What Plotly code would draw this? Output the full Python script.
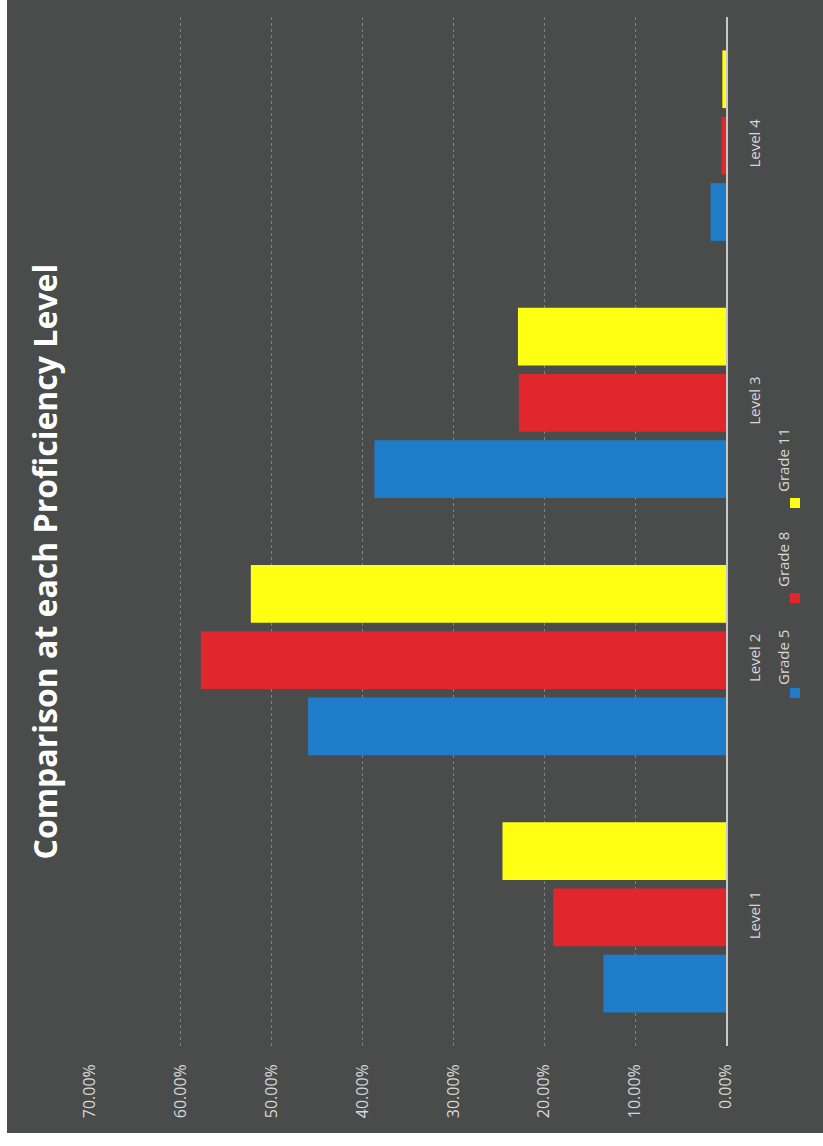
import plotly.graph_objects as go

levels = ["Level 1", "Level 2", "Level 3", "Level 4"]
series_names = ["Grade 5", "Grade 8", "Grade 11"]
grade5 = [0.135, 0.460, 0.387, 0.017]
grade8 = [0.190, 0.578, 0.228, 0.005]
grade11 = [0.246, 0.523, 0.229, 0.004]
value_ticks = [0, 0.1, 0.2, 0.3, 0.4, 0.5, 0.6, 0.7]
colors = ["#1f7cc9", "#e1262d", "#ffff14"]
title_text = "Comparison at each Proficiency Level"

W, H = 823, 1146
L, R, T, B = 90, 97, 17, 100
PW, PH = W - L - R, H - T - B


def px(x):
    return (x - L) / PW


def py(y):
    return (H - B - y) / PH


fig = go.Figure()
for name, vals, col in zip(series_names, [grade5, grade8, grade11], colors):
    fig.add_trace(go.Bar(
        y=levels, x=vals, name=name, orientation="h",
        marker=dict(color=col, line=dict(width=0)),
        showlegend=False,
    ))

txt_col = "#d8d8d8"
fig.update_layout(
    width=W, height=H,
    margin=dict(l=L, r=R, t=T, b=B, autoexpand=False),
    paper_bgcolor="#4a4b4b",
    plot_bgcolor="rgba(0,0,0,0)",
    barmode="group",
    bargap=0.226,
    bargroupgap=0.13,
    font=dict(family="Open Sans", color=txt_col),
    xaxis=dict(
        range=[0.7, 0], tickvals=value_ticks, tickformat=".2%",
        tickangle=-90, showgrid=True, gridcolor="rgba(210,210,210,0.4)",
        griddash="dot", gridwidth=1, zeroline=False, showline=False,
        ticks="", ticklabelstandoff=14, tickfont=dict(size=16, color=txt_col),
        fixedrange=True,
    ),
    yaxis=dict(
        side="right", showline=True, linecolor="#c8c8c8", linewidth=1.5,
        showgrid=False, ticks="", tickangle=-90, ticklabelstandoff=14,
        tickfont=dict(size=15, color=txt_col),
        range=[-0.5, 3.5], fixedrange=True,
    ),
)

# white page border strips (left and bottom)
fig.add_shape(type="rect", xref="paper", yref="paper",
              x0=px(-5), x1=px(7), y0=py(-5), y1=py(H + 5),
              fillcolor="white", line=dict(width=0), layer="above")
fig.add_shape(type="rect", xref="paper", yref="paper",
              x0=px(-5), x1=px(W + 5), y0=py(1133), y1=py(H + 5),
              fillcolor="white", line=dict(width=0), layer="above")

# title
fig.add_annotation(text="<b>" + title_text + "</b>", textangle=-90,
                   xref="paper", yref="paper", x=px(20), y=py(562),
                   showarrow=False, font=dict(size=32, color="white", family="Open Sans"))

# legend (rotated)
legend_pos = [(693, 658), (598, 560), (503, 460)]
for name, col, (my, ty) in zip(series_names, colors, legend_pos):
    fig.add_shape(type="rect", xref="paper", yref="paper",
                  x0=px(790), x1=px(800), y0=py(my - 5), y1=py(my + 5),
                  fillcolor=col, line=dict(width=0))
    fig.add_annotation(text=name, textangle=-90, xref="paper", yref="paper",
                       x=px(795), y=py(ty), showarrow=False,
                       font=dict(size=15, color=txt_col))

fig.write_html("out.html")
